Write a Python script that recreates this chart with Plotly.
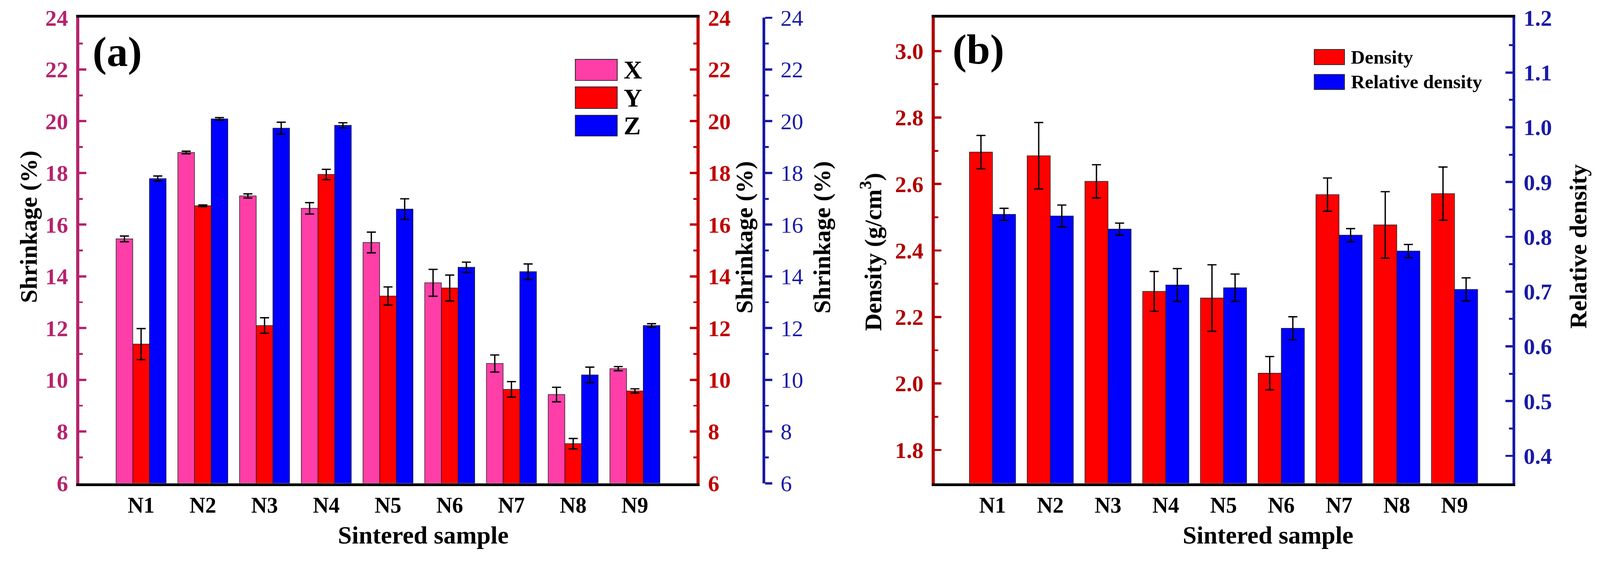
import plotly.graph_objects as go

# ---- data ----
samples = ['N1', 'N2', 'N3', 'N4', 'N5', 'N6', 'N7', 'N8', 'N9']

shrink_x = [15.45, 18.79, 17.11, 16.63, 15.31, 13.75, 10.63, 9.43, 10.43]
shrink_x_err = [0.11, 0.05, 0.08, 0.22, 0.40, 0.52, 0.33, 0.28, 0.08]
shrink_y = [11.38, 16.73, 12.10, 17.94, 13.24, 13.55, 9.63, 7.53, 9.57]
shrink_y_err = [0.60, 0.03, 0.30, 0.20, 0.35, 0.50, 0.30, 0.20, 0.08]
shrink_z = [17.78, 20.09, 19.73, 19.84, 16.60, 14.35, 14.18, 10.19, 12.10]
shrink_z_err = [0.10, 0.05, 0.23, 0.10, 0.40, 0.20, 0.30, 0.30, 0.07]

density = [2.696, 2.685, 2.608, 2.277, 2.257, 2.031, 2.568, 2.477, 2.571]
density_err = [0.05, 0.10, 0.05, 0.06, 0.10, 0.05, 0.05, 0.10, 0.08]
rel_density = [0.841, 0.838, 0.814, 0.712, 0.707, 0.633, 0.803, 0.774, 0.704]
rel_density_err = [0.011, 0.020, 0.011, 0.030, 0.025, 0.021, 0.012, 0.012, 0.021]

W, H = 4233, 1488
FONT = 'Liberation Serif, Times New Roman, serif'

PINK = '#FF3EA8'
RED = '#FF0000'
BLUE = '#0000FF'
AX_PINK = '#B5236E'
AX_RED = '#C00000'
AX_BLUE = '#1A1AA6'
AX_RED_B = '#B00000'


def px(x):
    return x / W


def py(y):
    return 1 - y / H


def err(vals):
    return dict(type='data', array=vals, color='black', thickness=3.5, width=12)


bar_line = dict(color='#222222', width=1.5)

fig = go.Figure()

# ---- panel (a) ----
fig.add_trace(go.Bar(x=samples, y=shrink_x, error_y=err(shrink_x_err), name='X',
                     marker=dict(color=PINK, line=bar_line), width=0.27, offset=-0.405,
                     xaxis='x', yaxis='y'))
fig.add_trace(go.Bar(x=samples, y=shrink_y, error_y=err(shrink_y_err), name='Y',
                     marker=dict(color=RED, line=bar_line), width=0.27, offset=-0.135,
                     xaxis='x', yaxis='y2'))
fig.add_trace(go.Bar(x=samples, y=shrink_z, error_y=err(shrink_z_err), name='Z',
                     marker=dict(color=BLUE, line=bar_line), width=0.27, offset=0.135,
                     xaxis='x', yaxis='y3'))

# ---- panel (b) ----
fig.add_trace(go.Bar(x=samples, y=density, error_y=err(density_err), name='Density',
                     marker=dict(color=RED, line=bar_line), width=0.40, offset=-0.40,
                     xaxis='x2', yaxis='y4'))
fig.add_trace(go.Bar(x=samples, y=rel_density, error_y=err(rel_density_err), name='Relative density',
                     marker=dict(color=BLUE, line=bar_line), width=0.40, offset=0.0,
                     xaxis='x2', yaxis='y5'))

ydom = [py(1279), py(47)]


def yax(color, rng, dtick, minor_dtick, side='left', ticks='inside', weight='bold', **kw):
    d = dict(range=rng, dtick=dtick, showline=True, linecolor=color, linewidth=8,
             ticks=ticks, ticklen=18, tickwidth=6, tickcolor=color,
             minor=dict(ticks=ticks, ticklen=9, tickwidth=5, tickcolor=color, dtick=minor_dtick),
             tickfont=dict(family=FONT, size=60, color=color, weight=weight),
             showgrid=False, zeroline=False, side=side,
             ticklabelstandoff=10, automargin=False)
    d.update(kw)
    return d


xcommon = dict(type='category', range=[-1, 9], showline=True, linecolor='black', linewidth=8,
               mirror=True, ticks='', showgrid=False, automargin=False,
               tickfont=dict(family=FONT, size=58, color='black', weight='bold'))

fig.update_layout(
    template='none',
    width=W, height=H,
    margin=dict(l=0, r=0, t=0, b=0, pad=0),
    paper_bgcolor='white', plot_bgcolor='white',
    showlegend=False,
    font=dict(family=FONT, color='black'),
    xaxis=dict(domain=[px(210), px(1843)], anchor='y', **xcommon),
    yaxis=yax(AX_PINK, [6, 24], 2, 1, domain=ydom, anchor='x'),
    yaxis2=yax(AX_RED, [6, 24], 2, 1, side='right', overlaying='y', anchor='x'),
    yaxis3=yax(AX_BLUE, [6, 24], 2, 1, side='right', ticks='outside', overlaying='y',
               anchor='free', position=px(2021), weight='normal'),
    xaxis2=dict(domain=[px(2473), px(4001)], anchor='y4', **xcommon),
    yaxis4=yax(AX_RED_B, [1.7, 3.1], 0.2, 0.1, domain=ydom, anchor='x2', tickformat='.1f'),
    yaxis5=yax(AX_BLUE, [0.35, 1.2], 0.1, 0.05, side='right', overlaying='y4', anchor='x2',
               tick0=0.4, tickformat='.1f'),
)

# ---- text: panel labels and axis titles ----
notes = [
    ('<b>(a)</b>', 243, 137, 0, 'left', 112),
    ('<b>(b)</b>', 2518, 130, 0, 'left', 112),
    ('<b>Shrinkage (%)</b>', 75, 600, -90, 'center', 64),
    ('<b>Shrinkage (%)</b>', 1968, 628, -90, 'center', 64),
    ('<b>Shrinkage (%)</b>', 2174, 628, -90, 'center', 64),
    ('<b>Density (g/cm<sup>3</sup>)</b>', 2305, 667, -90, 'center', 64),
    ('<b>Relative density</b>', 4175, 652, -90, 'center', 64),
    ('<b>Sintered sample</b>', 1120, 1416, 0, 'center', 66),
    ('<b>Sintered sample</b>', 3355, 1416, 0, 'center', 66),
]
for text, x, y, ang, xa, size in notes:
    fig.add_annotation(text=text, x=px(x), y=py(y), xref='paper', yref='paper',
                       xanchor=xa, yanchor='middle', textangle=ang, showarrow=False,
                       font=dict(family=FONT, size=size, color='black'))

# ---- legends drawn as swatches + labels ----
legend_a = [('X', PINK, 157, 213), ('Y', RED, 230, 287), ('Z', BLUE, 305, 360)]
for label, col, y0, y1 in legend_a:
    fig.add_shape(type='rect', xref='paper', yref='paper', x0=px(1522), x1=px(1633),
                  y0=py(y1), y1=py(y0), fillcolor=col, line=dict(color='#222222', width=2))
    fig.add_annotation(text='<b>%s</b>' % label, x=px(1648), y=py((y0 + y1) / 2),
                       xref='paper', yref='paper', xanchor='left', yanchor='middle',
                       showarrow=False, font=dict(family=FONT, size=68, color='black'))

legend_b = [('Density', RED, 131, 171), ('Relative density', BLUE, 197, 237)]
for label, col, y0, y1 in legend_b:
    fig.add_shape(type='rect', xref='paper', yref='paper', x0=px(3477), x1=px(3557),
                  y0=py(y1), y1=py(y0), fillcolor=col, line=dict(color='#222222', width=2))
    fig.add_annotation(text='<b>%s</b>' % label, x=px(3572), y=py((y0 + y1) / 2),
                       xref='paper', yref='paper', xanchor='left', yanchor='middle',
                       showarrow=False, font=dict(family=FONT, size=51, color='black'))

# fit the fixed-size figure into whatever viewport the browser really has
fit_js = """
document.body.style.margin = '0';
document.body.style.overflow = 'hidden';
var gd = document.getElementsByClassName('plotly-graph-div')[0];
var s = Math.min(window.innerWidth / %d, window.innerHeight / %d);
if (s < 1) { gd.style.transformOrigin = '0 0'; gd.style.transform = 'scale(' + s + ')'; }
""" % (W, H)

fig.write_html('out.html', config={'displayModeBar': False}, post_script=fit_js)
